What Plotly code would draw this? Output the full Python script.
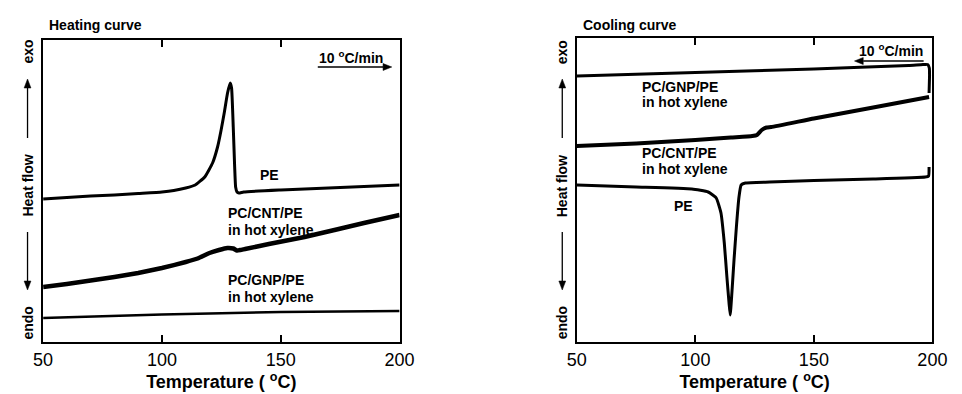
import plotly.graph_objects as go

# ---------------- data (heat flow in arbitrary units) ----------------
heat_pe_T = [50, 60, 70, 80, 90, 100, 105, 110, 114, 118, 121.3, 123.4, 124.9, 126.2, 127.6, 128.7, 129.3,
             130.0, 130.6, 131.0, 131.6, 132.4, 134.4, 150, 175, 200]
heat_pe_H = [143, 144.5, 146, 147, 148.5, 150, 151.5, 154, 157, 165, 179, 195, 212, 229, 249, 259, 254,
             215, 175, 155, 150, 149, 150, 152, 154.5, 157]

heat_cnt_T = [50, 60, 70, 80, 90, 100, 110, 115, 120, 124, 127.5, 130, 131.6, 133, 135, 145, 160, 172.6, 185, 200]
heat_cnt_H = [55, 58, 61.5, 65, 69, 74, 80, 83.5, 89, 92, 94, 93.5, 91.5, 92, 93, 98, 105, 112, 119, 127]

heat_gnp_T = [50, 100, 150, 200]
heat_gnp_H = [24, 27.5, 30, 31]

cool_gnp_T = [198.6, 198.8, 198.7, 198, 196, 190, 150, 100, 50]
cool_gnp_H = [249, 267, 274, 277.5, 277.5, 276.5, 273, 269.5, 266]

cool_cnt_T = [50, 75, 100, 115, 124, 126, 128, 130, 132, 150, 175, 198.6]
cool_cnt_H = [196, 198.5, 202, 204.5, 206, 207, 212, 214.5, 215, 223.5, 234.5, 245]

cool_pe_T = [50, 75, 98.5, 105.4, 108.8, 110.8, 112.2, 113.3, 114.2, 114.7, 115.4, 116.3, 117.3, 118.4,
             119.3, 121.1, 131.4, 150, 175, 197, 198.4, 198.6]
cool_pe_H = [157, 155, 153, 150, 144, 129, 99, 65, 39, 27, 49, 82, 115, 145,
             157, 159, 160, 161.5, 163, 165, 166, 175]

x_ticks = [50, 100, 150, 200]

W, H = 962, 394
FONT = "Arial, Liberation Sans, Helvetica, sans-serif"


def px(x):
    return x / W


def py(y):
    return (H - y) / H


fig = go.Figure()

line_style = dict(color="black", shape="spline", smoothing=0.4)
fig.add_trace(go.Scatter(x=heat_pe_T, y=heat_pe_H, mode="lines", line=dict(width=3, **line_style),
                         xaxis="x", yaxis="y"))
fig.add_trace(go.Scatter(x=heat_cnt_T, y=heat_cnt_H, mode="lines", line=dict(width=4.5, **line_style),
                         xaxis="x", yaxis="y"))
fig.add_trace(go.Scatter(x=heat_gnp_T, y=heat_gnp_H, mode="lines", line=dict(width=2.5, **line_style),
                         xaxis="x", yaxis="y"))
fig.add_trace(go.Scatter(x=cool_gnp_T, y=cool_gnp_H, mode="lines", line=dict(width=3, **line_style),
                         xaxis="x2", yaxis="y2"))
fig.add_trace(go.Scatter(x=cool_cnt_T, y=cool_cnt_H, mode="lines", line=dict(width=4, **line_style),
                         xaxis="x2", yaxis="y2"))
fig.add_trace(go.Scatter(x=cool_pe_T, y=cool_pe_H, mode="lines", line=dict(width=3, **line_style),
                         xaxis="x2", yaxis="y2"))

xa = dict(range=[50, 200], tickvals=x_ticks, ticktext=[str(v) for v in x_ticks],
          showline=True, linewidth=2, linecolor="black", mirror="allticks",
          ticks="inside", ticklen=7, tickwidth=2, tickcolor="black",
          showgrid=False, zeroline=False,
          tickfont=dict(family=FONT, size=18, color="black"),
          title=dict(text="<b>Temperature ( <sup>o</sup>C)</b>", font=dict(family=FONT, size=18, color="black"),
                     standoff=6))
ya = dict(showline=True, linewidth=2, linecolor="black", mirror=True,
          ticks="", showticklabels=False, showgrid=False, zeroline=False)

fig.update_layout(
    width=W, height=H,
    margin=dict(l=0, r=0, t=0, b=0),
    paper_bgcolor="white", plot_bgcolor="white",
    showlegend=False,
    xaxis=dict(domain=[px(34), px(400)], anchor="y", **xa),
    yaxis=dict(domain=[py(342), py(40)], range=[0, 302], anchor="x", **ya),
    xaxis2=dict(domain=[px(582), px(947)], anchor="y2", **xa),
    yaxis2=dict(domain=[py(342), py(38)], range=[0, 304], anchor="x2", **ya),
)

ann = []
shapes = []


def text(x, y, s, size=14, anchor="left", angle=0):
    ann.append(dict(x=px(x), y=py(y), xref="paper", yref="paper", text="<b>" + s + "</b>",
                    showarrow=False, xanchor=anchor, yanchor="middle", textangle=angle,
                    font=dict(family=FONT, size=size, color="black")))


def arrow(x0, y0, x1, y1, head=9, half=3.5, lw=1.3):
    # arrow from (x0,y0) to head at (x1,y1), pixel coords (horizontal or vertical)
    dx, dy = x1 - x0, y1 - y0
    L = (dx * dx + dy * dy) ** 0.5
    ux, uy = dx / L, dy / L
    bx, by = x1 - ux * head, y1 - uy * head
    shapes.append(dict(type="line", xref="paper", yref="paper",
                       x0=px(x0), y0=py(y0), x1=px(bx), y1=py(by),
                       line=dict(color="black", width=lw)))
    nx, ny = -uy, ux
    path = "M {:.5f} {:.5f} L {:.5f} {:.5f} L {:.5f} {:.5f} Z".format(
        px(x1), py(y1), px(bx + nx * half), py(by + ny * half), px(bx - nx * half), py(by - ny * half))
    shapes.append(dict(type="path", xref="paper", yref="paper", path=path,
                       fillcolor="black", line=dict(color="black", width=0.5)))


# panel titles
text(38, 25, "Heating curve", size=14)
text(586, 25, "Cooling curve", size=14)

# left labels
text(266, 175, "PE", anchor="center")
text(222, 213, "PC/CNT/PE")
text(222, 230, "in hot xylene")
text(222, 280, "PC/GNP/PE")
text(222, 297, "in hot xylene")
text(350, 57, "10 <sup>o</sup>C/min", anchor="center")
arrow(316, 67, 392, 67)

# right labels
text(647, 87, "PC/GNP/PE")
text(647, 102, "in hot xylene")
text(647, 153, "PC/CNT/PE")
text(647, 169, "in hot xylene")
text(691, 206, "PE", anchor="center")
text(905, 50, "10 <sup>o</sup>C/min", anchor="center")
arrow(938, 61, 867, 61)

# y-axis labels
for xc in (18, 567):
    text(xc, 52, "exo", anchor="center", angle=-90)
    arrow(xc, 138, xc, 79)
    text(xc, 186, "Heat flow", anchor="center", angle=-90)
    arrow(xc, 232, xc, 290)
    text(xc, 323, "endo", anchor="center", angle=-90)

fig.update_layout(annotations=ann, shapes=shapes)
fig.write_html("out.html")
